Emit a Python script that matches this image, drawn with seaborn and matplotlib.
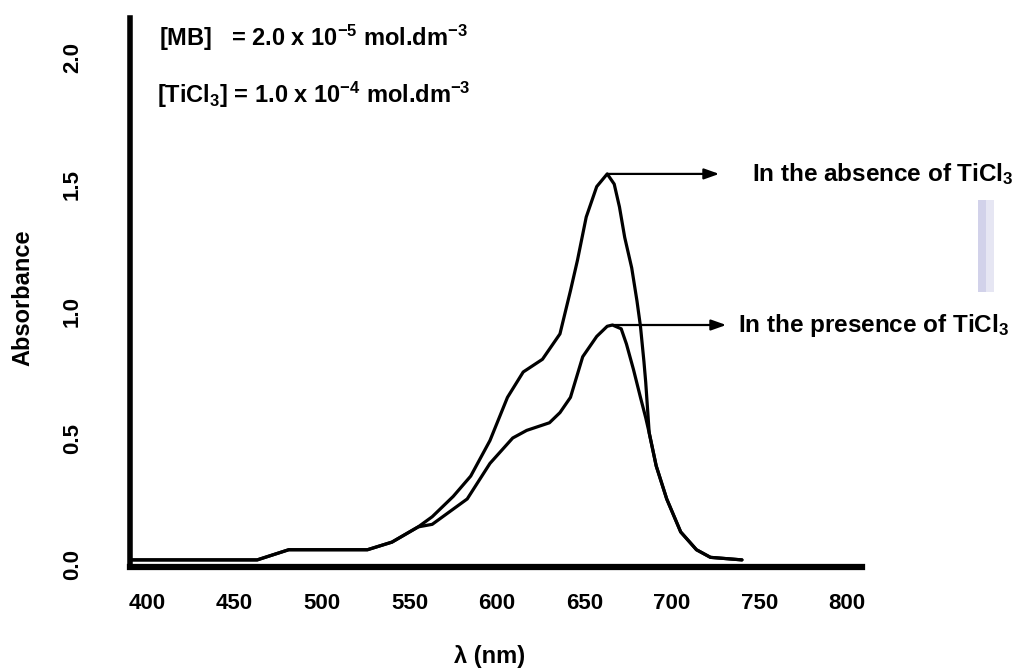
import numpy as np
import pandas as pd
import matplotlib
matplotlib.use("Agg")
import matplotlib.pyplot as plt
from matplotlib.patches import Rectangle
import seaborn as sns

# ---------------- data ----------------
wavelength_absence = [391, 463, 481, 526, 540, 555, 563, 575, 585, 596, 606, 615, 626, 636, 642,
                      646, 651, 657, 663, 667, 670, 673, 677, 680, 682, 684, 685, 687, 691, 697,
                      705, 714, 722, 740]
absorbance_absence = [0.02, 0.02, 0.06, 0.06, 0.09, 0.15, 0.19, 0.27, 0.35, 0.49, 0.66, 0.76, 0.81, 0.91, 1.08,
                      1.20, 1.37, 1.49, 1.54, 1.50, 1.41, 1.29, 1.17, 1.04, 0.94, 0.80, 0.72, 0.52, 0.39, 0.26,
                      0.13, 0.06, 0.03, 0.02]

wavelength_presence = [391, 463, 481, 526, 540, 555, 563, 583, 596, 609, 617, 630, 636, 642, 649,
                       657, 663, 666, 671, 674, 678, 682, 685, 687, 691, 697, 705, 714, 722, 740]
absorbance_presence = [0.02, 0.02, 0.06, 0.06, 0.09, 0.15, 0.16, 0.26, 0.40, 0.50, 0.53, 0.56, 0.60, 0.66, 0.82,
                       0.90, 0.94, 0.945, 0.93, 0.87, 0.77, 0.66, 0.58, 0.52, 0.39, 0.26, 0.13, 0.06, 0.03, 0.02]

x_ticks = [400, 450, 500, 550, 600, 650, 700, 750, 800]
y_ticks = [0.0, 0.5, 1.0, 1.5, 2.0]
series_labels = ["In the absence of TiCl$_3$", "In the presence of TiCl$_3$"]
conc_lines = ["[MB]   = 2.0 x 10$^{-5}$ mol.dm$^{-3}$",
              "[TiCl$_3$] = 1.0 x 10$^{-4}$ mol.dm$^{-3}$"]
x_label = "λ (nm)"
y_label = "Absorbance"

# ---------------- style ----------------
sns.set_style("white")
plt.rcParams["font.family"] = ["Liberation Sans", "DejaVu Sans"]
plt.rcParams["font.weight"] = "bold"
plt.rcParams["mathtext.fontset"] = "custom"
plt.rcParams["mathtext.rm"] = "Liberation Sans:bold"
plt.rcParams["mathtext.bf"] = "Liberation Sans:bold"
plt.rcParams["mathtext.it"] = "Liberation Sans:bold"
plt.rcParams["mathtext.default"] = "bf"
for k in ["text.color", "axes.labelcolor", "xtick.color", "ytick.color"]:
    plt.rcParams[k] = "black"

W, H = 1023, 668
fig = plt.figure(figsize=(W / 100, H / 100), dpi=100)
ax = fig.add_axes([130 / W, 1 - 567 / H, (862 - 130) / W, (567 - 18) / H])

df = pd.concat([
    pd.DataFrame({"wavelength": wavelength_absence, "absorbance": absorbance_absence,
                  "series": series_labels[0]}),
    pd.DataFrame({"wavelength": wavelength_presence, "absorbance": absorbance_presence,
                  "series": series_labels[1]}),
])
sns.lineplot(data=df, x="wavelength", y="absorbance", hue="series",
             palette=["black", "black"], estimator=None, sort=False,
             lw=2.3, legend=False, ax=ax)

ax.set_xlim(390.3, 808.6)
ax.set_ylim(-0.008, 2.154)

for s in ["top", "right"]:
    ax.spines[s].set_visible(False)
ax.spines["left"].set_linewidth(4.0)
ax.spines["bottom"].set_linewidth(4.5)
ax.spines["left"].set_color("black")
ax.spines["bottom"].set_color("black")

ax.set_xticks(x_ticks)
ax.set_xticklabels([str(v) for v in x_ticks], fontsize=16, fontweight="bold")
ax.set_yticks(y_ticks)
ax.set_yticklabels([f"{v:.1f}" for v in y_ticks], fontsize=16, fontweight="bold",
                   rotation=90, va="center")
ax.tick_params(axis="x", direction="in", length=5, width=1.5, pad=19)
ax.tick_params(axis="y", direction="in", length=5, width=1.5, pad=34)

ax.set_xlabel(x_label, fontsize=17, fontweight="bold")
ax.xaxis.set_label_coords((490 - 130) / 732, (567 - 645) / 549)
ax.set_ylabel(y_label, fontsize=17, fontweight="bold")
ax.yaxis.set_label_coords((34 - 130) / 732, (567 - 298) / 549)

# arrows and series annotations
series_data = [(wavelength_absence, absorbance_absence), (wavelength_presence, absorbance_presence)]
arrow_ends = [727, 731]
text_x = [746, 738]
for (wl, ab), lab, xe, xt in zip(series_data, series_labels, arrow_ends, text_x):
    i = int(np.argmax(ab))
    px, py = wl[i], ab[i]
    ax.annotate("", xy=(xe, py), xytext=(px, py),
                arrowprops=dict(arrowstyle="-|>,head_length=0.9,head_width=0.32",
                                color="black", lw=1.6, shrinkA=0, shrinkB=0),
                annotation_clip=False)
    ax.text(xt, py, lab, fontsize=17.5, fontweight="bold", va="center", ha="left",
            clip_on=False)

# concentration notes
ax.text(407, 2.075, conc_lines[0], fontsize=17, fontweight="bold", va="center", ha="left")
ax.text(406, 1.85, conc_lines[1], fontsize=17, fontweight="bold", va="center", ha="left")

# faint lavender scan artifact at the right
fig.add_artist(Rectangle((978 / W, 1 - 292 / H), 8 / W, 92 / H,
                         transform=fig.transFigure, color="#d2d2ea", lw=0))
fig.add_artist(Rectangle((986 / W, 1 - 292 / H), 8 / W, 92 / H,
                         transform=fig.transFigure, color="#e6e6f3", lw=0))

fig.savefig("out.png", dpi=100)
